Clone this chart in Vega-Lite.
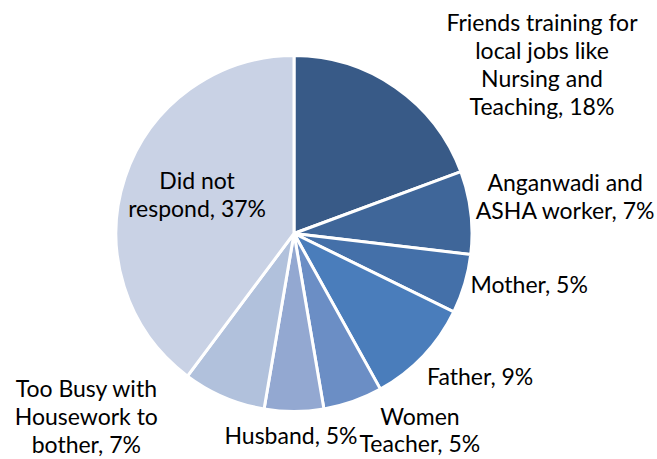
{
  "$schema": "https://vega.github.io/schema/vega-lite/v6.json",
  "width": 588,
  "height": 451,
  "autosize": {"type": "none"},
  "padding": {"left": 0, "top": 8, "right": 69, "bottom": 0},
  "background": "white",
  "data": {
    "values": [
      {"idx": 1, "category": "Friends training for local jobs like Nursing and Teaching", "label": "Friends training for\nlocal jobs like\nNursing and\nTeaching, 18%", "percent": 18},
      {"idx": 2, "category": "Anganwadi and ASHA worker", "label": "Anganwadi and\nASHA worker, 7%", "percent": 7},
      {"idx": 3, "category": "Mother", "label": "Mother, 5%", "percent": 5},
      {"idx": 4, "category": "Father", "label": "Father, 9%", "percent": 9},
      {"idx": 5, "category": "Women Teacher", "label": "Women\nTeacher, 5%", "percent": 5},
      {"idx": 6, "category": "Husband", "label": "Husband, 5%", "percent": 5},
      {"idx": 7, "category": "Too Busy with Housework to bother", "label": "Too Busy with\nHousework to\nbother, 7%", "percent": 7},
      {"idx": 8, "category": "Did not respond", "label": "Did not\nrespond, 37%", "percent": 37}
    ]
  },
  "encoding": {
    "theta": {"field": "percent", "type": "quantitative", "stack": true},
    "order": {"field": "idx", "type": "quantitative"}
  },
  "layer": [
    {
      "mark": {"type": "arc", "outerRadius": 178, "stroke": "white", "strokeWidth": 3},
      "encoding": {
        "color": {
          "field": "category",
          "type": "nominal",
          "scale": {
            "domain": ["Friends training for local jobs like Nursing and Teaching", "Anganwadi and ASHA worker", "Mother", "Father", "Women Teacher", "Husband", "Too Busy with Housework to bother", "Did not respond"],
            "range": ["#385A87", "#3F6699", "#4470A9", "#4A7DBB", "#6B8EC5", "#93A8D1", "#B1C1DC", "#C9D2E5"]
          },
          "legend": null
        }
      }
    },
    {
      "mark": {"type": "text", "radius": 245, "dx": 108, "dy": -1, "align": "center", "baseline": "alphabetic", "lineBreak": "\n", "font": "Lato", "fontSize": 23, "lineHeight": 28, "color": "black"},
      "encoding": {"text": {"condition": {"test": "datum.idx == 1", "field": "label", "type": "nominal"}, "value": ""}}
    },
    {
      "mark": {"type": "text", "radius": 270, "dx": 3, "dy": -11, "align": "center", "baseline": "alphabetic", "lineBreak": "\n", "font": "Lato", "fontSize": 23, "lineHeight": 28, "color": "black"},
      "encoding": {"text": {"condition": {"test": "datum.idx == 2", "field": "label", "type": "nominal"}, "value": ""}}
    },
    {
      "mark": {"type": "text", "radius": 240, "dx": 5, "dy": -8, "align": "center", "baseline": "alphabetic", "lineBreak": "\n", "font": "Lato", "fontSize": 23, "lineHeight": 28, "color": "black"},
      "encoding": {"text": {"condition": {"test": "datum.idx == 3", "field": "label", "type": "nominal"}, "value": ""}}
    },
    {
      "mark": {"type": "text", "radius": 250, "dx": 5, "dy": -21, "align": "center", "baseline": "alphabetic", "lineBreak": "\n", "font": "Lato", "fontSize": 23, "lineHeight": 28, "color": "black"},
      "encoding": {"text": {"condition": {"test": "datum.idx == 4", "field": "label", "type": "nominal"}, "value": ""}}
    },
    {
      "mark": {"type": "text", "radius": 220, "dx": 53, "dy": -16, "align": "center", "baseline": "alphabetic", "lineBreak": "\n", "font": "Lato", "fontSize": 23, "lineHeight": 27, "color": "black"},
      "encoding": {"text": {"condition": {"test": "datum.idx == 5", "field": "label", "type": "nominal"}, "value": ""}}
    },
    {
      "mark": {"type": "text", "radius": 210, "dx": -3, "dy": 0, "align": "center", "baseline": "alphabetic", "lineBreak": "\n", "font": "Lato", "fontSize": 23, "lineHeight": 28, "color": "black"},
      "encoding": {"text": {"condition": {"test": "datum.idx == 6", "field": "label", "type": "nominal"}, "value": ""}}
    },
    {
      "mark": {"type": "text", "radius": 230, "dx": -117, "dy": -48, "align": "center", "baseline": "alphabetic", "lineBreak": "\n", "font": "Lato", "fontSize": 23, "lineHeight": 28, "color": "black"},
      "encoding": {"text": {"condition": {"test": "datum.idx == 7", "field": "label", "type": "nominal"}, "value": ""}}
    },
    {
      "mark": {"type": "text", "radius": 100, "dx": -2, "dy": -13, "align": "center", "baseline": "alphabetic", "lineBreak": "\n", "font": "Lato", "fontSize": 23, "lineHeight": 28, "color": "black"},
      "encoding": {"text": {"condition": {"test": "datum.idx == 8", "field": "label", "type": "nominal"}, "value": ""}}
    }
  ],
  "config": {"view": {"stroke": null}}
}
